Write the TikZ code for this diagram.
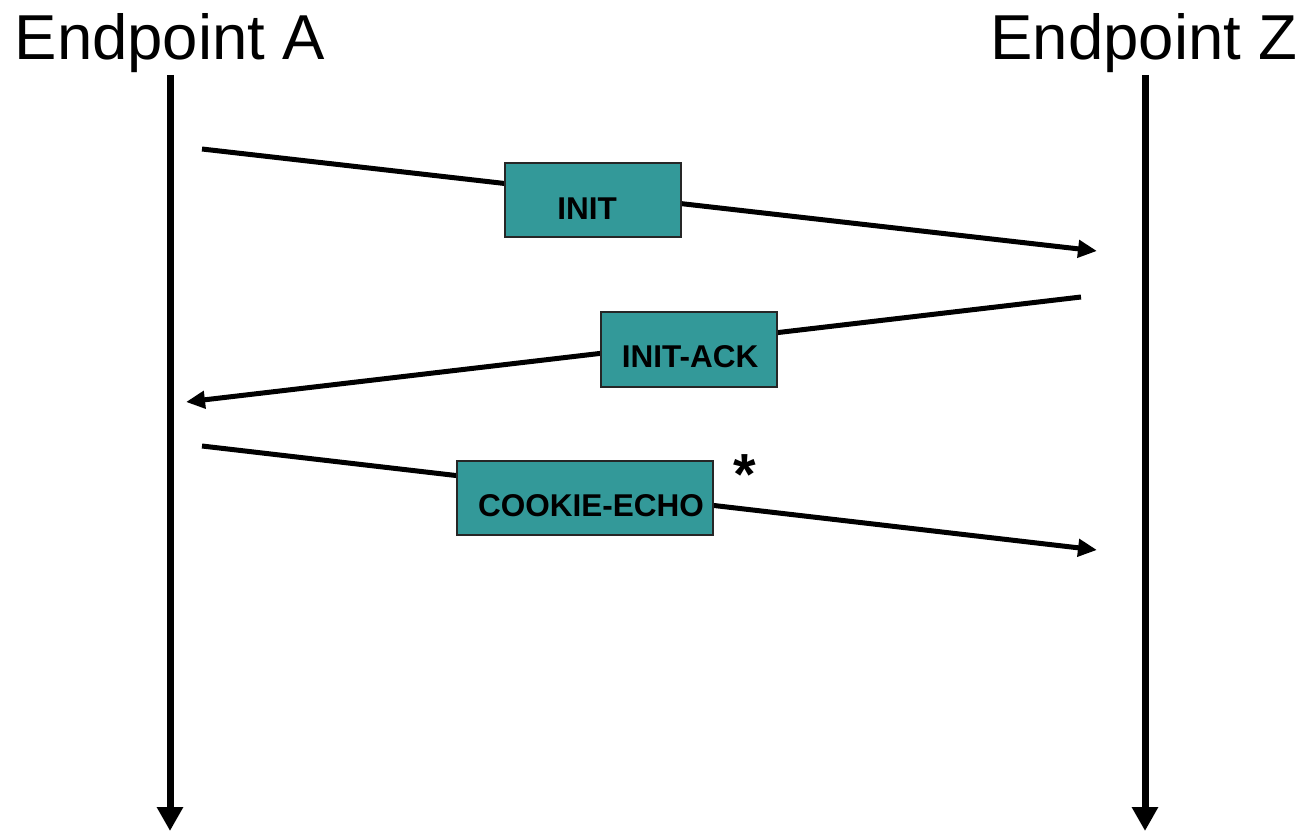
\documentclass[tikz,border=0pt]{standalone}
\usepackage{fontspec}
\setmainfont{Liberation Sans}
\usetikzlibrary{arrows.meta}
\definecolor{msgteal}{HTML}{339999}
\tikzset{
  lifeline/.style={line width=7pt, -{Triangle[length=24pt,width=25pt]}},
  message/.style={line width=5pt, -{Triangle[length=19pt,width=17pt]}},
  msgbox/.style={draw=black!85, line width=1.5pt, fill=msgteal, inner sep=0pt},
  msglabel/.style={font=\bfseries\fontsize{31.5}{36}\selectfont, inner sep=0pt},
  title/.style={font=\fontsize{63.5}{70}\selectfont, inner sep=0pt, anchor=base},
}
\begin{document}
\begin{tikzpicture}[x=1pt, y=-1pt]
\useasboundingbox (0,0) rectangle (1304,832);

% endpoint titles
\node[title] (tA) at (170,60) {Endpoint A};
\node[title] (tZ) at (1144,60) {Endpoint Z};

% lifelines
\coordinate (aTop) at (170,75);
\coordinate (aBot) at (170,831);
\coordinate (zTop) at (1145,75);
\coordinate (zBot) at (1145,831);
\draw[lifeline] (aTop) -- (aBot);
\draw[lifeline] (zTop) -- (zBot);

% message end points
\coordinate (m1s) at (202,149);
\coordinate (m1e) at (1097,251);
\coordinate (m2s) at (1081,297);
\coordinate (m2e) at (186,402);
\coordinate (m3s) at (202,446);
\coordinate (m3e) at (1097,550);

\draw[message] (m1s) -- (m1e);
\draw[message] (m2s) -- (m2e);
\draw[message] (m3s) -- (m3e);

% message boxes
\node[msgbox, minimum width=176pt, minimum height=74pt] (b1) at (593,200) {};
\node[msglabel] (l1) at (587,209) {INIT};
\node[msgbox, minimum width=176pt, minimum height=75pt] (b2) at (689,349.5) {};
\node[msglabel] (l2) at (690,357) {INIT-ACK};
\node[msgbox, minimum width=256pt, minimum height=74pt] (b3) at (585,498) {};
\node[msglabel] (l3) at (591,506) {COOKIE-ECHO};

% marker next to the third message
\node[font=\bfseries\fontsize{58}{60}\selectfont, inner sep=0pt] (star) at (745,475) {*};
\end{tikzpicture}
\end{document}
